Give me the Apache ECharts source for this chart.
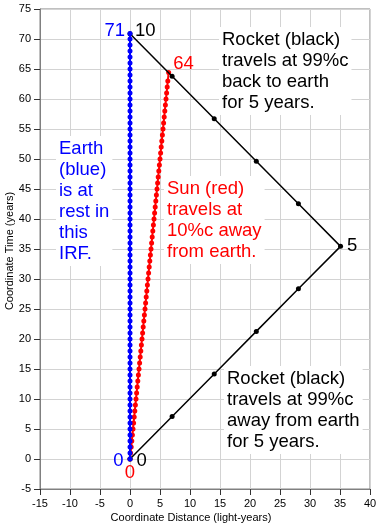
<!DOCTYPE html>
<html>
<head>
<meta charset="utf-8">
<script src="https://cdn.jsdelivr.net/npm/echarts@6/dist/echarts.min.js"></script>
<style>
html,body{margin:0;padding:0;background:#fff;}
#c{width:380px;height:527px;}
</style>
</head>
<body>
<div id="c"></div>
<script>
var xTicks = [-15, -10, -5, 0, 5, 10, 15, 20, 25, 30, 35, 40];
var yTicks = [-5, 0, 5, 10, 15, 20, 25, 30, 35, 40, 45, 50, 55, 60, 65, 70, 75];

var earthX = [0,0,0,0,0,0,0,0,0,0,0,0,0,0,0,0,0,0,0,0,0,0,0,0,0,0,0,0,0,0,0,0,0,0,0,0,0,0,0,0,0,0,0,0,0,0,0,0,0,0,0,0,0,0,0,0,0,0,0,0,0,0,0,0,0,0,0,0,0,0,0,0];
var earthT = [0,1,2,3,4,5,6,7,8,9,10,11,12,13,14,15,16,17,18,19,20,21,22,23,24,25,26,27,28,29,30,31,32,33,34,35,36,37,38,39,40,41,42,43,44,45,46,47,48,49,50,51,52,53,54,55,56,57,58,59,60,61,62,63,64,65,66,67,68,69,70,70.9];

var sunX = [0,0.1,0.2,0.3,0.4,0.5,0.6,0.7,0.8,0.9,1.0,1.1,1.2,1.3,1.4,1.5,1.6,1.7,1.8,1.9,2.0,2.1,2.2,2.3,2.4,2.5,2.6,2.7,2.8,2.9,3.0,3.1,3.2,3.3,3.4,3.5,3.6,3.7,3.8,3.9,4.0,4.1,4.2,4.3,4.4,4.5,4.6,4.7,4.8,4.9,5.0,5.1,5.2,5.3,5.4,5.5,5.6,5.7,5.8,5.9,6.0,6.1,6.2,6.3,6.44];
var sunT = [0,1,2,3,4,5,6,7,8,9,10,11,12,13,14,15,16,17,18,19,20,21,22,23,24,25,26,27,28,29,30,31,32,33,34,35,36,37,38,39,40,41,42,43,44,45,46,47,48,49,50,51,52,53,54,55,56,57,58,59,60,61,62,63,64.4];

var rocketX = [0, 7.02, 14.04, 21.05, 28.07, 35.09, 28.07, 21.05, 14.04, 7.02, 0];
var rocketT = [0, 7.09, 14.18, 21.27, 28.36, 35.44, 42.53, 49.62, 56.71, 63.80, 70.89];

var earthLabels = ['0', '71'];
var sunLabels = ['0', '64'];
var rocketLabels = ['0', '5', '10'];

var xName = 'Coordinate Distance (light-years)';
var yName = 'Coordinate Time (years)';
var noteRocketBack = 'Rocket (black)\ntravels at 99%c\nback to earth\nfor 5 years.';
var noteEarth = 'Earth\n(blue)\nis at\nrest in\nthis\nIRF.';
var noteSun = 'Sun (red)\ntravels at\n10%c away\nfrom earth.';
var noteRocketAway = 'Rocket (black)\ntravels at 99%c\naway from earth\nfor 5 years.';

var FONT = '"Liberation Sans", Arial, sans-serif';
var NOTE_FONT = '18.5px ' + FONT;

function pairs(xs, ys, labelMap, color) {
  var out = [];
  for (var i = 0; i < xs.length; i++) {
    var item = {value: [xs[i], ys[i]]};
    if (labelMap[i]) {
      item.label = Object.assign({
        show: true, color: color, fontSize: 18.5, fontFamily: FONT
      }, labelMap[i]);
    }
    out.push(item);
  }
  return out;
}

var earthMap = {};
earthMap[0] = {formatter: earthLabels[0], position: 'left', distance: 4, offset: [0, 2]};
earthMap[earthX.length - 1] = {formatter: earthLabels[1], position: 'left', distance: 2.5, offset: [0, -3]};
var sunMap = {};
sunMap[0] = {formatter: sunLabels[0], position: 'bottom', distance: 2};
sunMap[sunX.length - 1] = {formatter: sunLabels[1], position: 'right', distance: 2, offset: [0, -9]};
var rocketMap = {};
rocketMap[0] = {formatter: rocketLabels[0], position: 'right', distance: 4, offset: [0, 2]};
rocketMap[5] = {formatter: rocketLabels[1], position: 'right', distance: 4};
rocketMap[rocketX.length - 1] = {formatter: rocketLabels[2], position: 'right', distance: 2.5, offset: [0, -3]};

var chart = echarts.init(document.getElementById('c'), null, {renderer: 'canvas'});
var axisLabelStyle = {color: '#000', fontSize: 11, fontFamily: FONT};

chart.setOption({
  animation: false,
  backgroundColor: '#fff',
  grid: {left: 40, right: 10, top: 9, bottom: 38, show: true, borderColor: '#808080', borderWidth: 1},
  xAxis: {
    type: 'value', min: xTicks[0], max: xTicks[xTicks.length - 1], interval: 5,
    axisLine: {show: true, onZero: false, lineStyle: {color: '#808080'}},
    axisTick: {show: true, inside: false, length: 6, lineStyle: {color: '#333'}},
    axisLabel: Object.assign({margin: 9}, axisLabelStyle),
    splitLine: {show: true, lineStyle: {color: '#d3d3d3', width: 1}}
  },
  yAxis: {
    type: 'value', min: yTicks[0], max: yTicks[yTicks.length - 1], interval: 5,
    axisLine: {show: true, onZero: false, lineStyle: {color: '#808080'}},
    axisTick: {show: true, inside: false, length: 6, lineStyle: {color: '#333'}},
    axisLabel: Object.assign({margin: 9}, axisLabelStyle),
    splitLine: {show: true, lineStyle: {color: '#d3d3d3', width: 1}}
  },
  series: [
    {
      type: 'line', name: 'Sun', z: 2,
      data: pairs(sunX, sunT, sunMap, '#ff0000'),
      lineStyle: {color: '#ff0000', width: 2},
      itemStyle: {color: '#ff0000'},
      symbol: 'circle', symbolSize: 5, showAllSymbol: true
    },
    {
      type: 'line', name: 'Rocket', z: 3,
      data: pairs(rocketX, rocketT, rocketMap, '#000'),
      lineStyle: {color: '#000', width: 1.5},
      itemStyle: {color: '#000'},
      symbol: 'circle', symbolSize: 5, showAllSymbol: true
    },
    {
      type: 'line', name: 'Earth', z: 4,
      data: pairs(earthX, earthT, earthMap, '#0000ff'),
      lineStyle: {color: '#0000ff', width: 2},
      itemStyle: {color: '#0000ff'},
      symbol: 'circle', symbolSize: 5, showAllSymbol: true
    }
  ],
  graphic: [
    {type: 'text', left: 219, top: 27, z: 10, style: {text: noteRocketBack, font: NOTE_FONT, lineHeight: 21, fill: '#000', backgroundColor: '#fff', padding: [2, 3]}},
    {type: 'text', left: 56, top: 136, z: 10, style: {text: noteEarth, font: NOTE_FONT, lineHeight: 21, fill: '#0000ff', backgroundColor: '#fff', padding: [2, 3]}},
    {type: 'text', left: 164, top: 176, z: 10, style: {text: noteSun, font: NOTE_FONT, lineHeight: 21, fill: '#ff0000', backgroundColor: '#fff', padding: [2, 3]}},
    {type: 'text', left: 224, top: 366, z: 10, style: {text: noteRocketAway, font: NOTE_FONT, lineHeight: 21, fill: '#000', backgroundColor: '#fff', padding: [2, 3]}},
    {type: 'text', x: 191, y: 518, style: {text: xName, font: '11px ' + FONT, fill: '#000', align: 'center', verticalAlign: 'middle'}},
    {type: 'text', x: 10, y: 251, rotation: Math.PI / 2, style: {text: yName, font: '11px ' + FONT, fill: '#000', align: 'center', verticalAlign: 'middle'}}
  ]
});
</script>
</body>
</html>
